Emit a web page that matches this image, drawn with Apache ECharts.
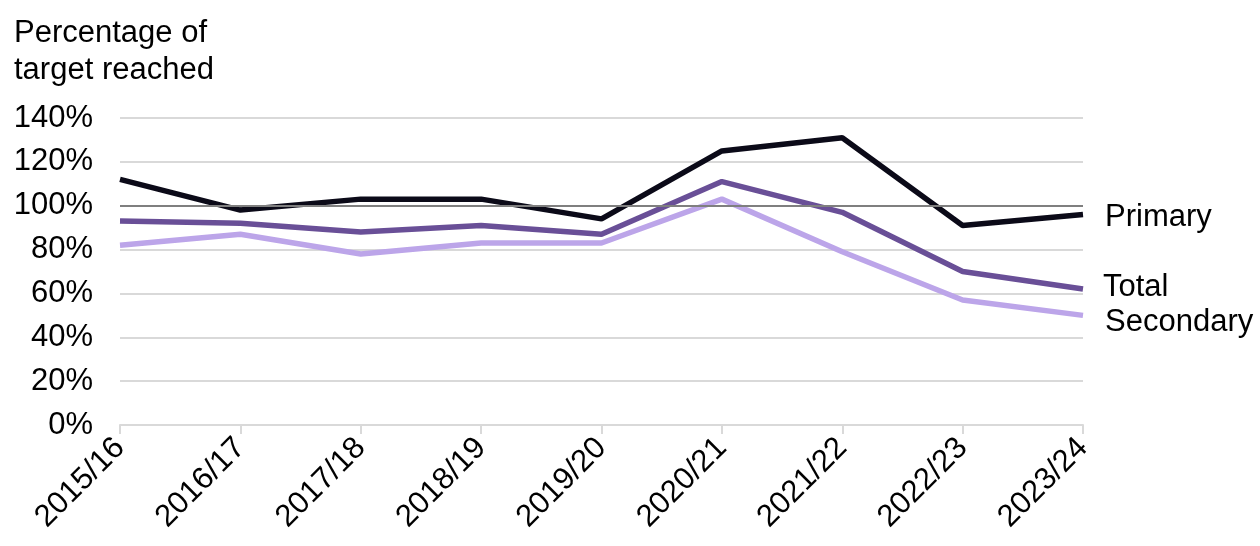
<!DOCTYPE html>
<html>
<head>
<meta charset="utf-8">
<script src="https://cdn.jsdelivr.net/npm/echarts@6/dist/echarts.min.js"></script>
<style>
  html, body { margin: 0; padding: 0; background: #fff; }
  #container { width: 1260px; height: 546px; }
</style>
</head>
<body>
<div id="container"></div>
<script>
var years = ['2015/16', '2016/17', '2017/18', '2018/19', '2019/20', '2020/21', '2021/22', '2022/23', '2023/24'];
var primary = [112, 98, 103, 103, 94, 125, 131, 91, 96];
var total = [93, 92, 88, 91, 87, 111, 97, 70, 62];
var secondary = [82, 87, 78, 83, 83, 103, 79, 57, 50];
var targetLine = 100;

var dom = document.getElementById('container');
var myChart = echarts.init(dom, null, { renderer: 'canvas' });
var font = 'Liberation Sans, Arial, sans-serif';

function lineSeries(name, data, color, offset) {
  return {
    name: name,
    type: 'line',
    data: data,
    symbol: 'none',
    lineStyle: { color: color, width: 5.5 },
    itemStyle: { color: color },
    endLabel: {
      show: true,
      formatter: name,
      color: '#000',
      fontFamily: font,
      fontSize: 31,
      offset: offset
    },
    emphasis: { disabled: true }
  };
}

var option = {
  backgroundColor: '#fff',
  animation: false,
  title: {
    text: 'Percentage of\ntarget reached',
    left: 9,
    top: 10,
    textStyle: { fontFamily: font, fontSize: 31, fontWeight: 'normal', color: '#000', lineHeight: 37 }
  },
  grid: { left: 120, right: 177, top: 118, bottom: 121 },
  xAxis: {
    type: 'category',
    data: years,
    boundaryGap: false,
    axisLine: { lineStyle: { color: '#d9d9d9', width: 2 } },
    axisTick: { show: true, alignWithLabel: true, length: 9, lineStyle: { color: '#d9d9d9', width: 2 } },
    axisLabel: { rotate: 45, color: '#000', fontFamily: font, fontSize: 31, margin: 18 },
    splitLine: { show: false }
  },
  yAxis: {
    type: 'value',
    min: 0,
    max: 140,
    interval: 20,
    axisLine: { show: false },
    axisTick: { show: false },
    axisLabel: { formatter: '{value}%', color: '#000', fontFamily: font, fontSize: 31, margin: 27 },
    splitLine: { lineStyle: { color: '#d9d9d9', width: 2 } }
  },
  series: [
    lineSeries('Secondary', secondary, '#bca5e9', [14, 7]),
    lineSeries('Total', total, '#694f97', [12, -2]),
    Object.assign(lineSeries('Primary', primary, '#0b0a18', [14, 3]), {
      markLine: {
        silent: true,
        symbol: 'none',
        label: { show: false },
        lineStyle: { color: '#7f7f7f', width: 2, type: 'solid' },
        data: [{ yAxis: targetLine }]
      },
      z: 3
    })
  ]
};

myChart.setOption(option);
window.addEventListener('resize', myChart.resize);
</script>
</body>
</html>
